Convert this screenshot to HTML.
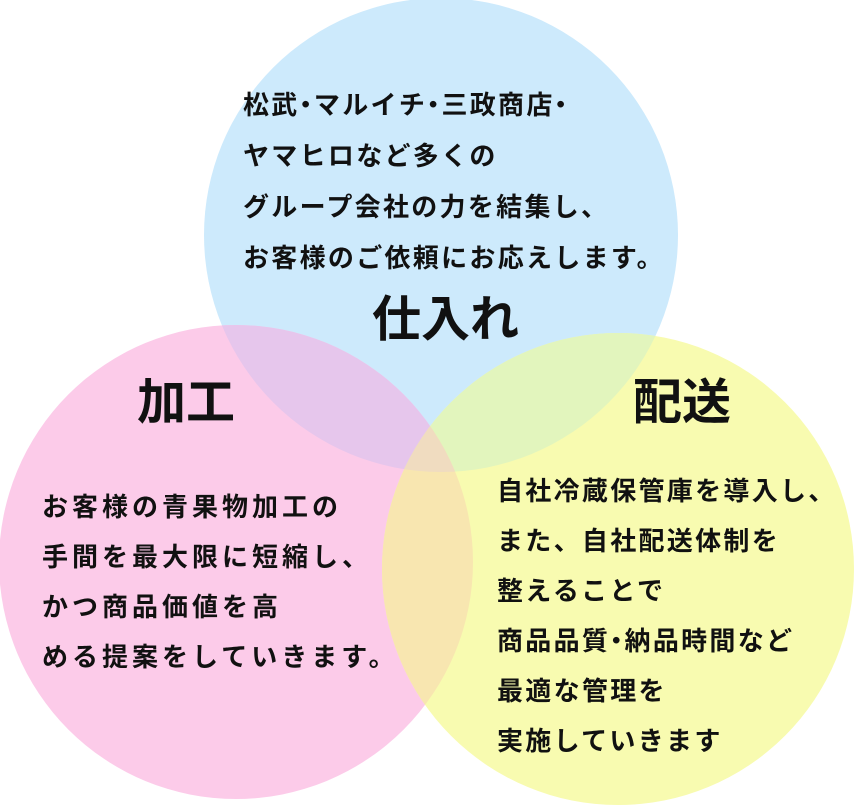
<!DOCTYPE html>
<html><head><meta charset="utf-8"><style>
html,body{margin:0;padding:0;background:#fff;}
body{width:854px;height:805px;position:relative;overflow:hidden;font-family:"Liberation Sans","Noto Sans CJK JP",sans-serif;color:#111;}
svg{position:absolute;left:0;top:0;}
.t{position:absolute;font-size:26px;font-weight:700;line-height:51px;letter-spacing:2.3px;white-space:nowrap;}
.d{margin:0 -7px;}
.h{position:absolute;font-size:49px;font-weight:700;line-height:1;white-space:nowrap;}
</style></head><body>
<svg width="854" height="805">
<defs>
<clipPath id="cb"><circle cx="441" cy="235" r="237"/></clipPath>
<clipPath id="cp"><circle cx="236" cy="562" r="237"/></clipPath>
</defs>
<circle cx="441" cy="235" r="237" fill="#cdeafc"/>
<circle cx="236" cy="562" r="237" fill="#fccbe9"/>
<circle cx="618" cy="569" r="236" fill="#f8fbb0"/>
<g clip-path="url(#cb)"><circle cx="236" cy="562" r="237" fill="#e6c6ec"/><circle cx="618" cy="569" r="236" fill="#e2f5bd"/></g>
<g clip-path="url(#cp)"><circle cx="618" cy="569" r="236" fill="#f8e6b0"/></g>
<g clip-path="url(#cb)"><g clip-path="url(#cp)"><circle cx="618" cy="569" r="236" fill="#f0dcc0"/></g></g>
</svg>
<div class="t" style="left:243px;top:80px;">松武<span class="d">・</span>マルイチ<span class="d">・</span>三政商店<span class="d">・</span><br>ヤマヒロなど多くの<br>グループ会社の力を結集し、<br>お客様のご依頼にお応えします。</div>
<div class="h" style="left:372px;top:296px;">仕入れ</div>
<div class="h" style="left:137px;top:379px;">加工</div>
<div class="h" style="left:633px;top:379px;">配送</div>
<div class="t" style="left:42px;top:482px;line-height:50px;letter-spacing:4px;">お客様の青果物加工の<br>手間を最大限に短縮し、<br>かつ商品価値を高<br>める提案をしていきます。</div>
<div class="t" style="left:497px;top:466px;line-height:50px;">自社冷蔵保管庫を導入し、<br>また、自社配送体制を<br>整えることで<br>商品品質<span class="d">・</span>納品時間など<br>最適な管理を<br>実施していきます</div>
</body></html>
